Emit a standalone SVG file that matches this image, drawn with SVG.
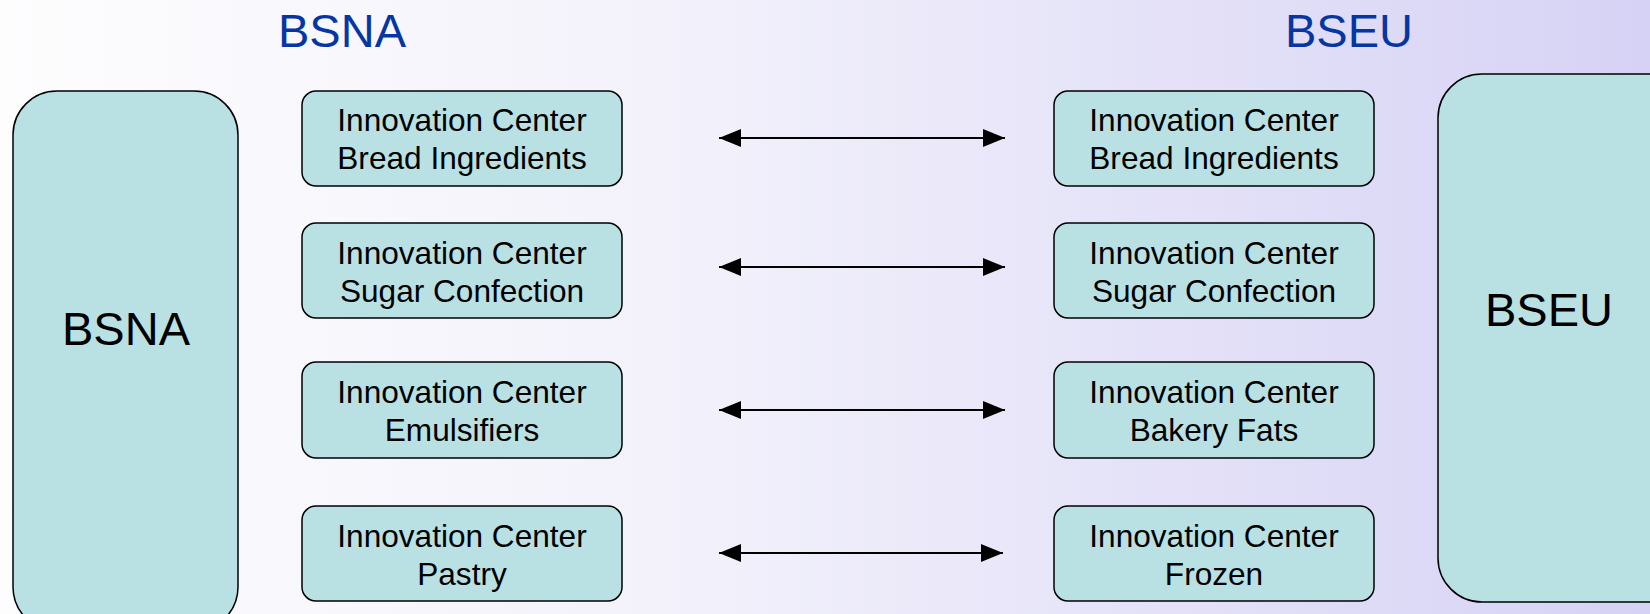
<svg xmlns="http://www.w3.org/2000/svg" width="1650" height="614" viewBox="0 0 1650 614">
<defs>
<linearGradient id="bg" x1="0" y1="0" x2="1" y2="0">
<stop offset="0" stop-color="#fdfdfe"/>
<stop offset="0.4" stop-color="#f3f2fb"/>
<stop offset="1" stop-color="#d6d2f5"/>
</linearGradient>
<marker id="ah" markerUnits="userSpaceOnUse" markerWidth="22" markerHeight="18" refX="22" refY="9" orient="auto-start-reverse" viewBox="0 0 22 18">
<path d="M0,0 L22,9 L0,18 z" fill="#000"/>
</marker>
<style>
.box{fill:#b9e0e3;stroke:#000;stroke-width:1.5}
.t{font-family:"Liberation Sans",Arial,sans-serif;font-size:31.6px;fill:#000;text-anchor:middle}
.big{font-family:"Liberation Sans",Arial,sans-serif;font-size:47px;fill:#000;text-anchor:middle}
.title{font-family:"Liberation Sans",Arial,sans-serif;font-size:47px;fill:#0536a3;text-anchor:middle}
.conn line{stroke:#000;stroke-width:2;marker-start:url(#ah);marker-end:url(#ah)}
</style>
</defs>
<rect x="0" y="0" width="1650" height="614" fill="url(#bg)"/>
<text class="title" x="342" y="47">BSNA</text>
<text class="title" x="1349" y="47">BSEU</text>
<g id="bsna">
<rect class="box" x="13" y="91" width="225" height="540" rx="44"/>
<text class="big" x="126" y="345">BSNA</text>
</g>
<g id="bseu">
<rect class="box" x="1438" y="74" width="260" height="528" rx="44"/>
<text class="big" x="1549" y="326">BSEU</text>
</g>
<g id="na1"><rect class="box" x="302" y="91" width="320" height="95" rx="14"/><text class="t" x="462" y="131">Innovation Center</text><text class="t" x="462" y="169">Bread Ingredients</text></g>
<g id="na2"><rect class="box" x="302" y="223" width="320" height="95" rx="14"/><text class="t" x="462" y="264">Innovation Center</text><text class="t" x="462" y="302">Sugar Confection</text></g>
<g id="na3"><rect class="box" x="302" y="362" width="320" height="96" rx="14"/><text class="t" x="462" y="403">Innovation Center</text><text class="t" x="462" y="441">Emulsifiers</text></g>
<g id="na4"><rect class="box" x="302" y="506" width="320" height="95" rx="14"/><text class="t" x="462" y="547">Innovation Center</text><text class="t" x="462" y="585">Pastry</text></g>
<g id="eu1"><rect class="box" x="1054" y="91" width="320" height="95" rx="14"/><text class="t" x="1214" y="131">Innovation Center</text><text class="t" x="1214" y="169">Bread Ingredients</text></g>
<g id="eu2"><rect class="box" x="1054" y="223" width="320" height="95" rx="14"/><text class="t" x="1214" y="264">Innovation Center</text><text class="t" x="1214" y="302">Sugar Confection</text></g>
<g id="eu3"><rect class="box" x="1054" y="362" width="320" height="96" rx="14"/><text class="t" x="1214" y="403">Innovation Center</text><text class="t" x="1214" y="441">Bakery Fats</text></g>
<g id="eu4"><rect class="box" x="1054" y="506" width="320" height="95" rx="14"/><text class="t" x="1214" y="547">Innovation Center</text><text class="t" x="1214" y="585">Frozen</text></g>
<g class="conn" id="connectors">
<line x1="719" y1="138" x2="1005" y2="138"/>
<line x1="719" y1="267" x2="1005" y2="267"/>
<line x1="719" y1="410" x2="1005" y2="410"/>
<line x1="719" y1="553" x2="1003" y2="553"/>
</g>
</svg>
